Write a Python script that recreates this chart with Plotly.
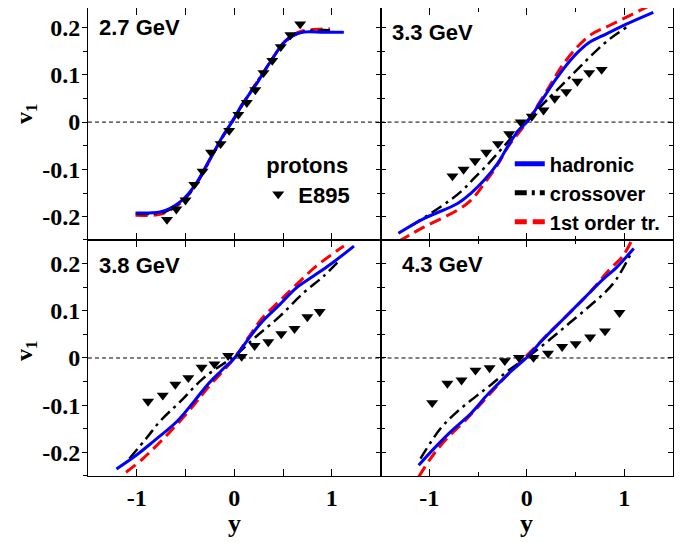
import plotly.graph_objects as go

panel_labels = ["2.7 GeV", "3.3 GeV", "3.8 GeV", "4.3 GeV"]
model_names = ["hadronic", "crossover", "1st order tr."]
data_name = "E895"
x_ticks = [-1, 0, 1]
y_ticks = [-0.2, -0.1, 0, 0.1, 0.2]
y_ticktext = ["-0.2", "-0.1", "0", "0.1", "0.2"]

# ---- 2.7 GeV ----
had_x_27 = [-1.013, -0.761, -0.657, -0.552, -0.465, -0.377, -0.290, -0.203, -0.115, -0.046, 0.007, 0.076, 0.147, 0.233, 0.320, 0.408, 0.495, 0.600, 0.705, 0.914, 1.124]
had_y_27 = [-0.192, -0.190, -0.182, -0.168, -0.150, -0.125, -0.093, -0.061, -0.029, -0.007, 0.011, 0.036, 0.057, 0.082, 0.111, 0.139, 0.165, 0.182, 0.190, 0.190, 0.190]
cro_x_27 = [-1.0, -0.75, -0.65, -0.55, -0.45, -0.35, -0.25, -0.12, 0.0, 0.15, 0.32, 0.5, 0.6, 0.72, 0.85, 1.0]
cro_y_27 = [-0.194, -0.192, -0.184, -0.169, -0.149, -0.118, -0.080, -0.032, 0.008, 0.058, 0.112, 0.165, 0.182, 0.191, 0.194, 0.194]
fo_x_27 = [-1.013, -0.761, -0.657, -0.552, -0.465, -0.377, -0.290, -0.203, -0.115, 0.007, 0.147, 0.320, 0.495, 0.600, 0.705, 0.85, 0.98]
fo_y_27 = [-0.197, -0.195, -0.186, -0.171, -0.152, -0.127, -0.095, -0.062, -0.030, 0.010, 0.057, 0.111, 0.165, 0.184, 0.193, 0.196, 0.197]
e895_x_27 = [-0.69, -0.594, -0.50, -0.41, -0.325, -0.238, -0.14, -0.052, 0.042, 0.129, 0.216, 0.30, 0.39, 0.477, 0.576, 0.676]
e895_y_27 = [-0.206, -0.184, -0.165, -0.132, -0.104, -0.064, -0.046, -0.018, 0.016, 0.041, 0.068, 0.104, 0.130, 0.159, 0.184, 0.207]

# ---- 3.3 GeV ----
had_x_33 = [-1.316, -1.056, -0.710, -0.571, -0.433, -0.295, -0.191, -0.087, 0.0, 0.086, 0.190, 0.294, 0.398, 0.502, 0.640, 0.813, 1.021, 1.298]
had_y_33 = [-0.235, -0.204, -0.172, -0.150, -0.122, -0.086, -0.050, -0.018, 0.0, 0.025, 0.057, 0.089, 0.118, 0.143, 0.168, 0.186, 0.207, 0.232]
cro_x_33 = [-1.194, -0.883, -0.675, -0.537, -0.399, -0.260, -0.121, 0.0, 0.156, 0.294, 0.432, 0.571, 0.709, 0.848, 1.021]
cro_y_33 = [-0.220, -0.179, -0.147, -0.118, -0.089, -0.057, -0.025, 0.0, 0.036, 0.064, 0.093, 0.122, 0.150, 0.175, 0.200]
fo_x_33 = [-1.316, -1.056, -0.710, -0.571, -0.433, -0.295, -0.191, 0.0, 0.190, 0.398, 0.640, 0.848, 1.056, 1.298]
fo_y_33 = [-0.252, -0.222, -0.186, -0.165, -0.129, -0.089, -0.052, 0.0, 0.061, 0.129, 0.182, 0.204, 0.225, 0.250]
e895_x_33 = [-0.762, -0.648, -0.53, -0.415, -0.295, -0.18, -0.062, 0.052, 0.172, 0.287, 0.405, 0.519, 0.64, 0.768]
e895_y_33 = [-0.114, -0.100, -0.082, -0.064, -0.046, -0.025, 0.0, 0.012, 0.025, 0.050, 0.064, 0.086, 0.104, 0.111]

# ---- 3.8 GeV ----
had_x_38 = [-1.208, -1.005, -0.831, -0.586, -0.412, -0.272, -0.133, 0.007, 0.147, 0.286, 0.461, 0.635, 0.809, 0.984, 1.228]
had_y_38 = [-0.235, -0.206, -0.177, -0.134, -0.092, -0.056, -0.027, 0.001, 0.041, 0.077, 0.112, 0.148, 0.173, 0.198, 0.237]
cro_x_38 = [-1.075, -0.901, -0.761, -0.552, -0.307, 0.007, 0.216, 0.461, 0.705, 0.914, 1.089]
cro_y_38 = [-0.213, -0.170, -0.134, -0.092, -0.041, 0.005, 0.044, 0.087, 0.137, 0.173, 0.209]
fo_x_38 = [-1.110, -0.936, -0.657, -0.412, -0.272, 0.007, 0.147, 0.286, 0.461, 0.635, 0.844, 1.124]
fo_y_38 = [-0.242, -0.213, -0.156, -0.099, -0.063, 0.001, 0.044, 0.084, 0.120, 0.155, 0.195, 0.237]
e895_x_38 = [-0.884, -0.733, -0.604, -0.471, -0.335, -0.203, -0.063, 0.076, 0.209, 0.349, 0.482, 0.618, 0.75, 0.876]
e895_y_38 = [-0.092, -0.079, -0.056, -0.042, -0.020, -0.013, 0.005, 0.003, 0.026, 0.034, 0.051, 0.062, 0.087, 0.098]

# ---- 4.3 GeV ----
had_x_43 = [-1.108, -0.952, -0.779, -0.571, -0.399, -0.191, 0.0, 0.156, 0.363, 0.571, 0.779, 0.917, 1.097]
had_y_43 = [-0.227, -0.192, -0.156, -0.117, -0.077, -0.034, 0.001, 0.037, 0.080, 0.123, 0.166, 0.191, 0.232]
cro_x_43 = [-1.090, -0.883, -0.710, -0.537, -0.363, -0.191, 0.0, 0.225, 0.432, 0.640, 0.813, 0.917, 1.073]
cro_y_43 = [-0.213, -0.149, -0.113, -0.084, -0.056, -0.027, 0.001, 0.037, 0.073, 0.109, 0.141, 0.166, 0.223]
fo_x_43 = [-1.108, -0.987, -0.848, -0.606, -0.399, -0.191, 0.0, 0.225, 0.432, 0.640, 0.848, 0.986, 1.090]
fo_y_43 = [-0.252, -0.213, -0.177, -0.127, -0.081, -0.034, 0.005, 0.052, 0.094, 0.137, 0.187, 0.216, 0.255]
e895_x_43 = [-0.97, -0.814, -0.669, -0.526, -0.381, -0.225, -0.08, 0.069, 0.218, 0.363, 0.502, 0.65, 0.803, 0.951]
e895_y_43 = [-0.095, -0.054, -0.047, -0.026, -0.021, -0.006, 0.001, 0.001, 0.010, 0.024, 0.030, 0.044, 0.057, 0.096]

panels = [
    (had_x_27, had_y_27, cro_x_27, cro_y_27, fo_x_27, fo_y_27, e895_x_27, e895_y_27),
    (had_x_33, had_y_33, cro_x_33, cro_y_33, fo_x_33, fo_y_33, e895_x_33, e895_y_33),
    (had_x_38, had_y_38, cro_x_38, cro_y_38, fo_x_38, fo_y_38, e895_x_38, e895_y_38),
    (had_x_43, had_y_43, cro_x_43, cro_y_43, fo_x_43, fo_y_43, e895_x_43, e895_y_43),
]
label_pos = [(-1.407, 0.200), (-1.40, 0.190), (-1.407, 0.195), (-1.30, 0.198)]

BLUE = "#0000ff"
RED = "#ff0000"
BLACK = "#000000"

fig = go.Figure()
for i, (hx, hy, cx, cy, fx, fy, ex, ey) in enumerate(panels):
    xa = "x" if i == 0 else f"x{i+1}"
    ya = "y" if i == 0 else f"y{i+1}"
    show = (i == 1)
    fig.add_trace(go.Scatter(x=fx, y=fy, mode="lines", name=model_names[2], xaxis=xa, yaxis=ya,
                             line=dict(color=RED, width=3, dash="12px,6px", shape="spline"),
                             showlegend=show, legendrank=3, legend="legend"))
    fig.add_trace(go.Scatter(x=cx, y=cy, mode="lines", name=model_names[1], xaxis=xa, yaxis=ya,
                             line=dict(color=BLACK, width=2.5, dash="12px,5px,3px,5px", shape="spline"),
                             showlegend=show, legendrank=2, legend="legend"))
    fig.add_trace(go.Scatter(x=hx, y=hy, mode="lines", name=model_names[0], xaxis=xa, yaxis=ya,
                             line=dict(color=BLUE, width=3, shape="spline"),
                             showlegend=show, legendrank=1, legend="legend"))
    fig.add_trace(go.Scatter(x=ex, y=ey, mode="markers", name=data_name, xaxis=xa, yaxis=ya,
                             marker=dict(symbol="triangle-down", size=10.5, color=BLACK),
                             showlegend=(i == 0), legend="legend2"))

# helper traces for the extra tick-only axes on the left column
for xa_, ya_ in (("x", "y5"), ("x3", "y6"), ("x", "y7"), ("x3", "y8")):
    fig.add_trace(go.Scatter(x=[], y=[], xaxis=xa_, yaxis=ya_, showlegend=False))

tick_font = dict(family="Liberation Serif", size=24, color="black", weight="bold")
split = 232 / 460
doms_x = [[0, 0.5], [0.5, 1], [0, 0.5], [0.5, 1]]
doms_y = [[split, 1], [split, 1], [0, split], [0, split]]
y_ranges = [[-0.249, 0.241], [-0.249, 0.241], [-0.25, 0.25], [-0.25, 0.25]]

layout = dict(
    width=683, height=534,
    margin=dict(l=80, r=18, t=0, b=66),
    paper_bgcolor="white", plot_bgcolor="white",
    font=dict(family="Liberation Sans", color="black"),
)
LW = 1.1
TW = 1.2
for i in range(4):
    xk = "xaxis" if i == 0 else f"xaxis{i+1}"
    yk = "yaxis" if i == 0 else f"yaxis{i+1}"
    yid = "y" if i == 0 else f"y{i+1}"
    xid = "x" if i == 0 else f"x{i+1}"
    layout[xk] = dict(domain=doms_x[i], anchor=yid, range=[-1.5, 1.5],
                      showgrid=False, zeroline=False, showline=True, linewidth=LW, linecolor="black",
                      mirror="allticks", ticks="inside", ticklen=7, tickwidth=TW, tickcolor="black",
                      tickvals=x_ticks, ticktext=["-1", "0", "1"], showticklabels=(i >= 2),
                      tickfont=tick_font,
                      minor=dict(dtick=0.5, tick0=0, ticks="inside", ticklen=4, tickwidth=TW, tickcolor="black"))
    left = i in (0, 2)
    if left:
        layout[yk] = dict(domain=doms_y[i], anchor=xid, range=y_ranges[i],
                          showgrid=False, zeroline=False, showline=True, linewidth=LW, linecolor="black",
                          mirror=True, ticks="",
                          tickvals=y_ticks, ticktext=y_ticktext, showticklabels=True,
                          tickfont=tick_font, ticklabelstandoff=2)
    else:
        layout[yk] = dict(domain=doms_y[i], anchor=xid, range=y_ranges[i],
                          showgrid=False, zeroline=False, showline=True, linewidth=LW, linecolor="black",
                          mirror="allticks", ticks="inside", ticklen=5, tickwidth=TW, tickcolor="black",
                          tickvals=y_ticks, showticklabels=False,
                          minor=dict(dtick=0.05, tick0=0, ticks="inside", ticklen=4, tickwidth=TW, tickcolor="black"))
# tick-only axes: inner ticks on the right edge, outer ticks on the left edge of the left column
for k, ov, an, rg, sd, tk in (("yaxis5", "y", "x", y_ranges[0], "right", "inside"),
                               ("yaxis6", "y3", "x3", y_ranges[2], "right", "inside"),
                               ("yaxis7", "y", "x", y_ranges[0], "left", "outside"),
                               ("yaxis8", "y3", "x3", y_ranges[2], "left", "outside")):
    layout[k] = dict(overlaying=ov, anchor=an, side=sd, range=rg,
                     showgrid=False, zeroline=False, showline=False, ticks=tk, ticklen=5,
                     tickwidth=TW, tickcolor="black", tickvals=y_ticks, showticklabels=False,
                     minor=dict(dtick=0.05, tick0=0, ticks=tk, ticklen=4, tickwidth=TW, tickcolor="black"))

layout["legend"] = dict(x=0.721, y=0.7087, xanchor="left", yanchor="top", bgcolor="rgba(0,0,0,0)",
                        font=dict(family="Liberation Sans", size=20, color="black", weight="bold"),
                        tracegroupgap=0, itemsizing="constant")
layout["legend2"] = dict(x=0.291, y=0.708, xanchor="left", yanchor="top", bgcolor="rgba(0,0,0,0)",
                         title=dict(text=" protons", font=dict(family="Liberation Sans", size=22, color="black", weight="bold")),
                         font=dict(family="Liberation Sans", size=22, color="black", weight="bold"))

shapes = []
annotations = []
for i in range(4):
    xid = "x" if i == 0 else f"x{i+1}"
    yid = "y" if i == 0 else f"y{i+1}"
    shapes.append(dict(type="line", xref=f"{xid} domain", yref=yid, x0=0, x1=1, y0=0, y1=0,
                       line=dict(color="black", width=1, dash="4px,3px"), layer="below"))
    annotations.append(dict(xref=xid, yref=yid, x=label_pos[i][0], y=label_pos[i][1], text=panel_labels[i],
                            showarrow=False, xanchor="left", yanchor="middle",
                            font=dict(family="Liberation Sans", size=22, color="black", weight="bold")))
# axis titles
for yc in ((468 - 112) / 460, (468 - 345) / 460):
    annotations.append(dict(xref="paper", yref="paper", x=-0.1057, y=yc, text="v<sub>1</sub>", textangle=-90,
                            showarrow=False, xanchor="center", yanchor="middle",
                            font=dict(family="Liberation Serif", size=24, color="black", weight="bold")))
for xid in ("x3", "x4"):
    annotations.append(dict(xref=xid, yref="paper", x=0, y=-0.102, text="y", showarrow=False,
                            xanchor="center", yanchor="middle",
                            font=dict(family="Liberation Serif", size=26, color="black", weight="bold")))
layout["shapes"] = shapes
layout["annotations"] = annotations

fig.update_layout(**layout)
fig.write_html("out.html")
